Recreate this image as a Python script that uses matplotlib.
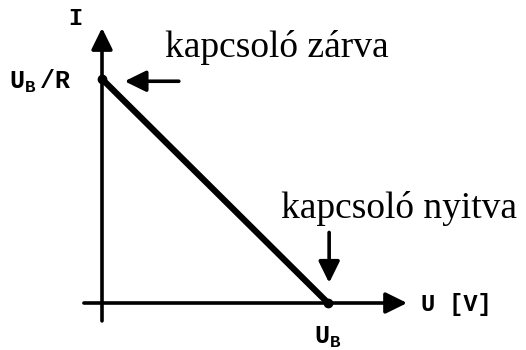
import matplotlib.pyplot as plt

plt.rcParams['mathtext.fontset'] = 'custom'
plt.rcParams['mathtext.tt'] = 'Liberation Mono:bold'
plt.rcParams['mathtext.rm'] = 'Liberation Mono:bold'

# load line: short circuit current U_B/R, open circuit voltage U_B
u_pts = [0.0, 1.0]
i_pts = [1.0, 0.0]
u_axis_end = 1.35
i_axis_end = 1.228

fig = plt.figure(figsize=(5.26, 3.5), dpi=100)
ax = fig.add_axes([0, 0, 1, 1])
ax.set_xlim(-0.4513, 1.876)
ax.set_ylim(-0.2098, 1.3527)
ax.axis('off')

arrow = dict(arrowstyle='-|>,head_length=0.65,head_width=0.32', color='black',
             lw=2.6, mutation_scale=20, shrinkA=0, shrinkB=0)

# axes with arrow heads
ax.annotate('', xy=(u_axis_end, 0), xytext=(-0.08, 0), arrowprops=arrow)
ax.annotate('', xy=(0, i_axis_end), xytext=(0, -0.08), arrowprops=arrow)

# load line and its end points
ax.plot(u_pts, i_pts, color='black', lw=4.5, solid_capstyle='round')
ax.plot(u_pts, i_pts, 'o', color='black', ms=6)

mono = dict(family='Liberation Mono', weight='bold', color='black')
ax.text(-0.12, 1.27, 'I', fontsize=17, ha='center', va='center', **mono)
ax.text(-0.41, 0.99, r'$\mathtt{U_B\,/R}$', fontsize=18, ha='left', va='center')
ax.text(1.0, -0.155, r'$\mathtt{U_B}$', fontsize=18, ha='center', va='center')
ax.text(1.41, -0.005, 'U [V]', fontsize=17, ha='left', va='center', **mono)

# switch states
serif = dict(family='Liberation Serif', color='black')
ax.text(0.28, 1.14, 'kapcsoló zárva', fontsize=27, ha='left', va='center', **serif)
ax.text(0.79, 0.42, 'kapcsoló nyitva', fontsize=27, ha='left', va='center', **serif)

ax.annotate('', xy=(0.1, 0.99), xytext=(0.34, 0.99), arrowprops=arrow)
ax.annotate('', xy=(1.005, 0.09), xytext=(1.005, 0.315), arrowprops=arrow)

fig.savefig('out.png', dpi=100)
